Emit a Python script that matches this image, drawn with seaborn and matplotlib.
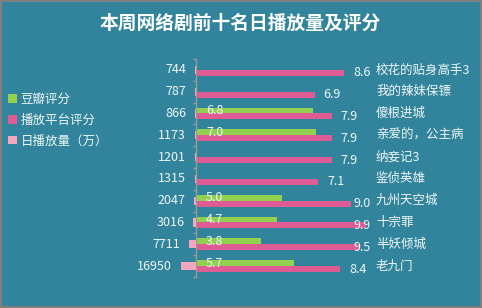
import matplotlib
matplotlib.use('Agg')
import matplotlib.pyplot as plt
import seaborn as sns
import pandas as pd
import numpy as np
from matplotlib.patches import Patch
from matplotlib.transforms import blended_transform_factory

names = ['校花的贴身高手3', '我的辣妹保镖', '傻根进城', '亲爱的，公主病', '纳妾记3',
         '鉴侦英雄', '九州天空城', '十宗罪', '半妖倾城', '老九门']
plays = [744, 787, 866, 1173, 1201, 1315, 2047, 3016, 7711, 16950]
douban = [None, None, 6.8, 7.0, None, None, 5.0, 4.7, 3.8, 5.7]
platform = [8.6, 6.9, 7.9, 7.9, 7.9, 7.1, 9.0, 9.9, 9.5, 8.4]
series = ['豆瓣评分', '播放平台评分', '日播放量（万）']
title = '本周网络剧前十名日播放量及评分'

BG = '#31849B'
GREEN = '#92D050'
PINK = '#DE5B93'
LPINK = '#F5A8BD'
TXT = '#EEF6F8'
AX = '#9A9A9A'

sns.set_style('white')
plt.rcParams['font.family'] = ['Noto Sans CJK SC', 'DejaVu Sans']

W, H = 482, 308
fig = plt.figure(figsize=(W / 100, H / 100), dpi=100)
fig.patch.set_facecolor(BG)
fig.patch.set_edgecolor('#808080')
fig.patch.set_linewidth(1.5)

axis_x = 196
top, bottom = 59, 277
axr = fig.add_axes([axis_x / W, (H - bottom) / H, (W - axis_x) / W, (bottom - top) / H])
axl = fig.add_axes([20 / W, (H - bottom) / H, (axis_x - 20) / W, (bottom - top) / H])
for a in (axr, axl):
    a.set_facecolor('none')
    for s in a.spines.values():
        s.set_visible(False)

px_per_unit = 17.2
df = pd.DataFrame({'name': names * 2,
                   'type': [series[0]] * len(names) + [series[1]] * len(names),
                   'score': douban + platform}).dropna()
sns.barplot(data=df, y='name', x='score', hue='type', hue_order=series[:2], order=names,
            orient='h', width=0.55, palette=[GREEN, PINK], saturation=1,
            errorbar=None, legend=False, linewidth=0, ax=axr)
axr.set_xlim(0, (W - axis_x) / px_per_unit)
axr.set_ylim(9.5, -0.5)

dfp = pd.DataFrame({'name': names, 'plays': plays})
sns.barplot(data=dfp, y='name', x='plays', order=names, orient='h', width=0.37,
            color=LPINK, saturation=1, errorbar=None, linewidth=0, ax=axl)
axl.set_xlim(16950 * (axis_x - 20) / 15, 0)
axl.set_ylim(9.5, -0.5)

for a in (axr, axl):
    a.set_xlabel('')
    a.set_ylabel('')
    a.set_xticks([])
axl.set_yticks([])
axr.spines['left'].set_visible(True)
axr.spines['left'].set_color(AX)
axr.spines['left'].set_linewidth(1)
axr.set_yticks(np.arange(-0.5, len(names), 1))
axr.tick_params(axis='y', length=2.5, width=1, color=AX, labelleft=False, left=True)

off = 0.1375
fs = 9
label_max_px = 354  # keep value labels clear of the name column
for i, (d, p) in enumerate(zip(douban, platform)):
    end_px = axis_x + p * px_per_unit
    x_left = min(end_px + 9, label_max_px)
    axr.annotate(f'{p:.1f}', xy=(p, i + off), xytext=(x_left - end_px, 0),
                 textcoords='offset pixels', ha='left', va='center', color=TXT, fontsize=fs)
    if d is not None:
        axr.annotate(f'{d:.1f}', xy=(0, i - off), xytext=(10, 0), textcoords='offset pixels',
                     ha='left', va='center', color=TXT, fontsize=fs)

tr = blended_transform_factory(axr.transAxes, axr.transData)
for i, n in enumerate(names):
    axr.text((376 - axis_x) / (W - axis_x), i, n, transform=tr, ha='left', va='center',
             color=TXT, fontsize=fs)

for i, p in enumerate(plays):
    axl.annotate(str(p), xy=(p, i), xytext=(-9, 0), textcoords='offset pixels',
                 ha='right', va='center', color=TXT, fontsize=fs)

fig.text(240 / W, 1 - 23 / H, title, ha='center', va='center', color='white',
         fontsize=13.5, fontweight='bold')

handles = [Patch(facecolor=c, edgecolor='none') for c in (GREEN, PINK, LPINK)]
fig.legend(handles, series, loc='upper left', bbox_to_anchor=(8 / W, 1 - 93 / H),
           frameon=False, fontsize=9, labelcolor=TXT, handlelength=0.68, handleheight=0.68,
           handletextpad=0.32, labelspacing=0.62, borderaxespad=0, borderpad=0)

fig.savefig('out.png', dpi=100, facecolor=fig.get_facecolor(), edgecolor=fig.get_edgecolor())
